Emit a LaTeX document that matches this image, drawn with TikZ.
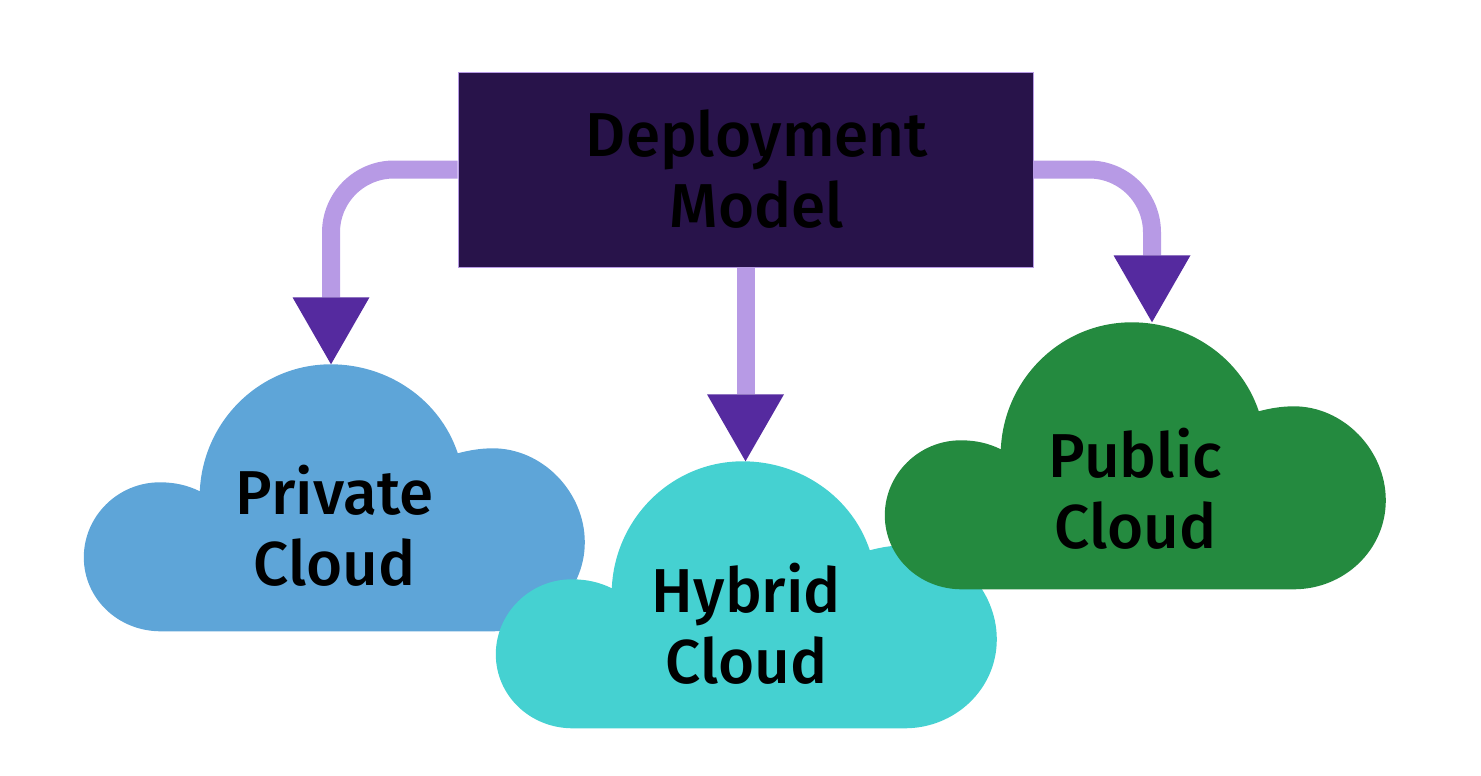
\documentclass[tikz,border=0pt]{standalone}
\usepackage{fontspec}
\setmainfont{Fira Sans Medium}
\usetikzlibrary{arrows.meta}
\definecolor{boxpurple}{HTML}{28134A}
\definecolor{linepurple}{HTML}{B79AE5}
\definecolor{headpurple}{HTML}{552A9F}
\definecolor{privateblue}{HTML}{5EA5D8}
\definecolor{hybridteal}{HTML}{45D1D1}
\definecolor{publicgreen}{HTML}{248A3F}

\begin{document}
\begin{tikzpicture}[x=1pt,y=1pt,
    cloudnode/.style ={minimum width=501pt, minimum height=267pt, inner sep=0pt},
    cloudshape/.pic ={\path[pic actions]
        (77,-267) -- (409,-267)
        .. controls (459,-267) and (501,-228) .. (501,-178)
        .. controls (501,-128) and (459,-84) .. (409,-84)
        .. controls (397,-84) and (385,-86) .. (374,-89)
        .. controls (356,-35) and (304,0) .. (247,0)
        .. controls (176,0) and (119,-57) .. (116,-127)
        .. controls (104,-121) and (91,-118) .. (76,-118)
        .. controls (34,-118) and (0,-152) .. (0,-193)
        .. controls (0,-234) and (34,-267) .. (77,-267) -- cycle;},
    modelbox/.style ={fill=boxpurple, draw=linepurple, line width=.6pt,
      minimum width=575pt, minimum height=195pt, inner sep=0pt},
    caption/.style ={align=center, inner sep=0pt, font=\fontsize{62}{71}\selectfont},
    flow/.style ={line width=18pt, draw=linepurple, rounded corners=63pt,
      -{Triangle[length=67pt,width=77pt,line width=0pt,color=headpurple]}}]
   \useasboundingbox (0,0) rectangle (1481,-776);
   \node[cloudnode] (private) at (334.5,-498) {};
   \node[cloudnode] (hybrid) at (746.5,-595) {};
   \node[cloudnode] (public) at (1135.5,-456) {};
   \pic[fill=privateblue] at (private.north west) {cloudshape};
   \pic[fill=hybridteal] at (hybrid.north west) {cloudshape};
   \pic[fill=publicgreen] at (public.north west) {cloudshape};
   \node[modelbox] (model) at (745.5,-169.5) {};
   \node[caption] (privatetext) at ([yshift=-28pt]private.center) {Private\\Cloud};
   \node[caption] (hybridtext) at ([yshift=-29pt]hybrid.center) {Hybrid\\Cloud};
   \node[caption] (publictext) at ([yshift=-33pt]public.center) {Public\\Cloud};
   \node[caption] (modeltext) at ([xshift=11.5pt]model.center) {Deployment\\Model};
   \draw[flow] (model.west) -| ([xshift=-3.5pt]private.north);
   \draw[flow] (model.south) -- (model.south |- hybrid.north);
   \draw[flow] (model.east) -| ([xshift=16.5pt]public.north);
 \end{tikzpicture}
\end{document}
